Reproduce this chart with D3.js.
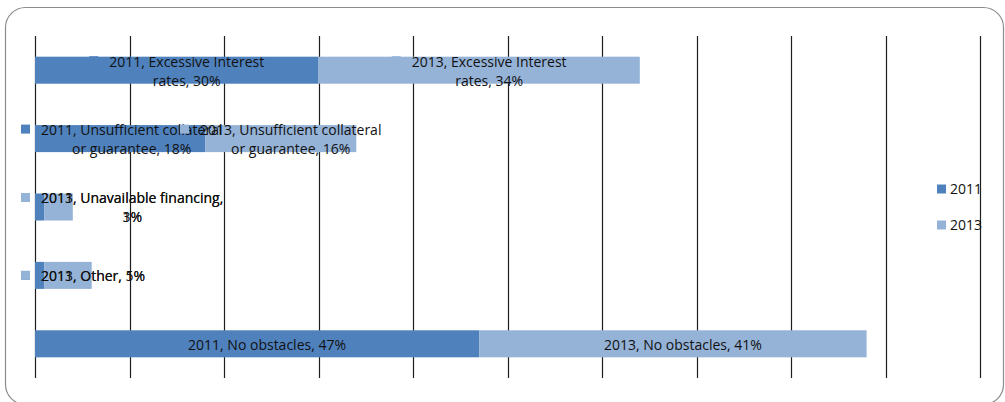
<!DOCTYPE html>
<html>
<head>
<meta charset="utf-8">
<script src="https://cdn.jsdelivr.net/npm/d3@7"></script>
<style>
  html, body { margin: 0; padding: 0; background: #fff; }
  svg { display: block; }
  text { font-family: "Open Sans", "Liberation Sans", sans-serif; fill: #111; }
</style>
</head>
<body>
<svg id="chart" width="1005" height="402"></svg>
<script>
// ---- data ----
const categories = ["Excessive Interest rates", "Unsufficient collateral or guarantee", "Unavailable financing", "Other", "No obstacles"];
const years = ["2011", "2013"];
const values2011 = [30, 18, 1, 1, 47];
const values2013 = [34, 16, 3, 5, 41];
const xTicks = [0, 10, 20, 30, 40, 50, 60, 70, 80, 90, 100];

// ---- layout / style ----
const plot = { left: 35, right: 980, top: 36, bottom: 378 };
const colors = { "2011": "#4f81bd", "2013": "#95b3d7" };
const fontSize = 14;
const wrapWidth = 186;

const svg = d3.select("#chart");

// outer rounded border
svg.append("rect")
  .attr("x", 5.5).attr("y", 7.5)
  .attr("width", 998).attr("height", 397)
  .attr("rx", 20).attr("ry", 20)
  .attr("fill", "#fff")
  .attr("stroke", "#8c8c8c").attr("stroke-width", 1.2);

const x = d3.scaleLinear().domain([0, 100]).range([plot.left, plot.right]);
const y = d3.scaleBand().domain(categories)
  .range([plot.top, plot.bottom])
  .paddingInner(0.605).paddingOuter(0.3025);

// gridlines
svg.append("g").selectAll("line").data(xTicks).join("line")
  .attr("x1", d => Math.round(x(d)) + 0.5).attr("x2", d => Math.round(x(d)) + 0.5)
  .attr("y1", plot.top).attr("y2", plot.bottom)
  .attr("stroke", "#1e1e1e").attr("stroke-width", 1.2);

// stacked data
const rows = categories.map((c, i) => ({ category: c, "2011": values2011[i], "2013": values2013[i] }));
const stacked = d3.stack().keys(years)(rows);

const barG = svg.append("g");
stacked.forEach(layer => {
  barG.append("g").attr("fill", colors[layer.key])
    .selectAll("rect").data(layer).join("rect")
    .attr("x", d => x(d[0]))
    .attr("width", d => x(d[1]) - x(d[0]))
    .attr("y", d => y(d.data.category))
    .attr("height", y.bandwidth());
});

// measuring helper
const meas = svg.append("text").attr("font-size", fontSize).attr("visibility", "hidden");
function textW(s) { meas.text(s); return meas.node().getComputedTextLength(); }
function wrap(s) {
  const words = s.split(" ");
  const lines = [];
  let cur = "";
  words.forEach(w => {
    const t = cur ? cur + " " + w : w;
    if (cur && textW(t) > wrapWidth) { lines.push(cur); cur = w; }
    else cur = t;
  });
  if (cur) lines.push(cur);
  return lines;
}

// data labels with legend keys
const keySize = 9, keyGap = 11, minLeft = 21, lineH = 19;
const labelG = svg.append("g");
stacked.forEach(layer => {
  layer.forEach(d => {
    const year = layer.key;
    const val = d.data[year];
    const label = `${year}, ${d.data.category}, ${val}%`;
    const lines = wrap(label);
    const maxW = d3.max(lines, l => textW(l));
    const blockW = keySize + keyGap + maxW;
    const segC = (x(d[0]) + x(d[1])) / 2;
    let left = segC - blockW / 2;
    if (left < minLeft) left = minLeft;
    const textC = left + keySize + keyGap + maxW / 2;
    const bandC = y(d.data.category) + y.bandwidth() / 2;
    const firstC = bandC + 1 - (lines.length - 1) * lineH / 2;
    labelG.append("rect")
      .attr("x", left).attr("y", firstC - keySize / 2 - 1)
      .attr("width", keySize).attr("height", keySize)
      .attr("fill", colors[year]);
    const t = labelG.append("text")
      .attr("font-size", fontSize)
      .attr("text-anchor", "middle");
    lines.forEach((l, i) => {
      t.append("tspan").attr("x", textC).attr("y", firstC + i * lineH)
        .attr("dy", "0.35em").text(l);
    });
  });
});

// legend
const legend = svg.append("g");
const legMid = (plot.top + plot.bottom) / 2;
years.forEach((yr, i) => {
  const cy = legMid + (i - 0.5) * 36;
  legend.append("rect").attr("x", 937).attr("y", cy - 4.5)
    .attr("width", keySize).attr("height", keySize).attr("fill", colors[yr]);
  legend.append("text").attr("x", 950).attr("y", cy).attr("dy", "0.35em")
    .attr("font-size", fontSize).text(yr);
});
meas.remove();
</script>
</body>
</html>
